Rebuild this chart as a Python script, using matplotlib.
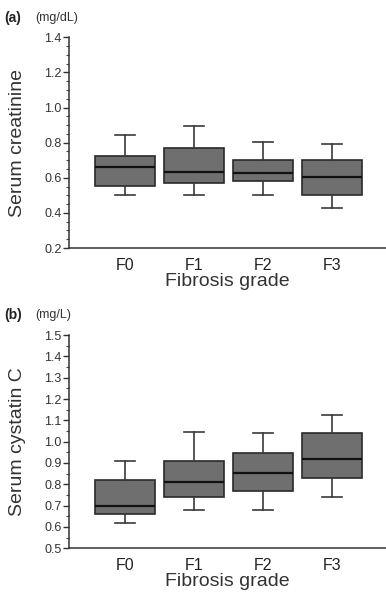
import numpy as np
import matplotlib.pyplot as plt
from matplotlib.ticker import MultipleLocator

plt.rcParams['font.family'] = ['Liberation Sans', 'DejaVu Sans']

grades = ['F0', 'F1', 'F2', 'F3']

# serum creatinine (mg/dL): whisker low, Q1, median, Q3, whisker high
creat_low = [0.50, 0.50, 0.50, 0.43]
creat_q1 = [0.556, 0.573, 0.579, 0.503]
creat_med = [0.659, 0.634, 0.625, 0.606]
creat_q3 = [0.722, 0.770, 0.703, 0.703]
creat_high = [0.845, 0.893, 0.804, 0.794]

# serum cystatin C (mg/L)
cys_low = [0.620, 0.680, 0.680, 0.742]
cys_q1 = [0.659, 0.738, 0.769, 0.828]
cys_med = [0.698, 0.811, 0.852, 0.917]
cys_q3 = [0.820, 0.911, 0.948, 1.042]
cys_high = [0.909, 1.047, 1.042, 1.123]


def make_stats(low, q1, med, q3, high):
    return [dict(whislo=a, q1=b, med=c, q3=d, whishi=e, fliers=[])
            for a, b, c, d, e in zip(low, q1, med, q3, high)]


def draw_panel(ax, stats, ylim, major, minor, ylabel, tag, unit, fig_y):
    pos = np.arange(len(grades))
    ax.bxp(stats, positions=pos, widths=0.87, capwidths=0.28,
           patch_artist=True, showfliers=False,
           boxprops=dict(facecolor='#6f6f6f', edgecolor='#2a2a2a', linewidth=1.2),
           medianprops=dict(color='#111111', linewidth=1.6),
           whiskerprops=dict(color='#3a3a3a', linewidth=1.2),
           capprops=dict(color='#3a3a3a', linewidth=1.2))
    ax.set_xlim(-0.81, 3.78)
    ax.set_ylim(*ylim)
    ax.yaxis.set_major_locator(MultipleLocator(major))
    ax.yaxis.set_minor_locator(MultipleLocator(minor))
    ax.yaxis.set_major_formatter(plt.FormatStrFormatter('%.1f'))
    ax.set_xticks(pos)
    ax.set_xticklabels(grades, fontsize=11.5, color='#222222')
    ax.tick_params(axis='x', length=0, pad=7)
    ax.tick_params(axis='y', which='major', length=4, width=1, labelsize=9,
                   colors='#333333', pad=1.5)
    ax.tick_params(axis='y', which='minor', length=2.5, width=0.8, colors='#444444')
    for side in ['top', 'right']:
        ax.spines[side].set_visible(False)
    for side in ['left', 'bottom']:
        ax.spines[side].set_color('#333333')
        ax.spines[side].set_linewidth(1.1)
    ax.set_ylabel(ylabel, fontsize=14, color='#333333')
    ax.yaxis.set_label_coords(-0.135, 0.5)
    ax.set_xlabel('Fibrosis grade', fontsize=14, color='#333333', labelpad=0)
    fig.text(0.012, fig_y, tag, fontsize=10, fontweight='bold', color='#222222',
             va='center')
    fig.text(0.092, fig_y, unit, fontsize=9, color='#333333', va='center')


fig = plt.figure(figsize=(3.86, 5.92), dpi=100)
ax1 = fig.add_axes([0.179, 0.581, 0.821, 0.356])
ax2 = fig.add_axes([0.179, 0.074, 0.821, 0.360])

draw_panel(ax1, make_stats(creat_low, creat_q1, creat_med, creat_q3, creat_high),
           (0.2, 1.4), 0.2, 0.05, 'Serum creatinine', '(a)', '(mg/dL)', 0.969)
draw_panel(ax2, make_stats(cys_low, cys_q1, cys_med, cys_q3, cys_high),
           (0.5, 1.5), 0.1, 0.05, 'Serum cystatin C', '(b)', '(mg/L)', 0.468)

fig.savefig('out.png', dpi=100)
